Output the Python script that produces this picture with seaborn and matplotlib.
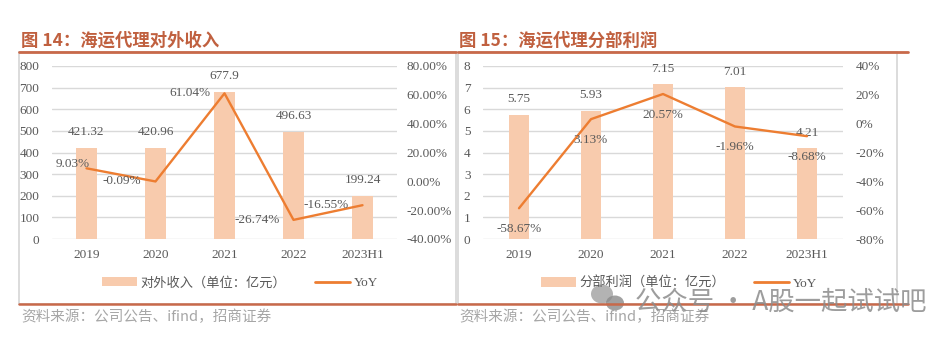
import numpy as np
import pandas as pd
import matplotlib
matplotlib.use("Agg")
import matplotlib.pyplot as plt
from matplotlib.patches import Rectangle, Patch, Ellipse
from matplotlib.lines import Line2D
from matplotlib.ticker import FuncFormatter, MultipleLocator
import seaborn as sns

# ---------------- data ----------------
categories = ["2019", "2020", "2021", "2022", "2023H1"]
revenue = [421.32, 420.96, 677.9, 496.63, 199.24]
revenue_labels = ["421.32", "420.96", "677.9", "496.63", "199.24"]
revenue_yoy = [9.03, -0.09, 61.04, -26.74, -16.55]
profit = [5.75, 5.93, 7.15, 7.01, 4.21]
profit_labels = ["5.75", "5.93", "7.15", "7.01", "4.21"]
profit_yoy = [-58.67, 3.13, 20.57, -1.96, -8.68]

title_left = "图 14：海运代理对外收入"
title_right = "图 15：海运代理分部利润"
legend_left = "对外收入（单位：亿元）"
legend_right = "分部利润（单位：亿元）"
legend_yoy = "YoY"
source_text = "资料来源：公司公告、ifind，招商证券"
watermark = "公众号 · A股一起试试吧"

# ---------------- style ----------------
sns.set_theme(style="white")
plt.rcParams["font.family"] = ["Liberation Serif", "Noto Sans CJK SC", "DejaVu Sans"]
BAR = "#F8CBAD"
LINE = "#ED7D31"
TITLE = "#C0603F"
RULE = "#C8694A"
TXT = "#595959"
GRID = "#D9D9D9"
FS = 9.5

W, H = 937, 340
fig = plt.figure(figsize=(W / 100, H / 100), dpi=100)


def fx(x):
    return x / W


def fy(y):
    return 1 - y / H


def make_axes(x0, x1, y0, y1):
    return fig.add_axes([fx(x0), fy(y1), fx(x1) - fx(x0), fy(y0) - fy(y1)])


def panel(ax, vals, vlabels, yoy, ylim, ystep, y2lim, y2step, pctfmt,
          bar_off, yoy_offsets, pad_l, pad_r):
    df = pd.DataFrame({"cat": categories, "val": vals})
    sns.barplot(data=df, x="cat", y="val", ax=ax, color=BAR, width=0.29,
                saturation=1, edgecolor="none", zorder=2)
    ax.set_xlim(-0.5, len(categories) - 0.5)
    ax.set_ylim(*ylim)
    ax.yaxis.set_major_locator(MultipleLocator(ystep))
    ax.set_xlabel("")
    ax.set_ylabel("")
    ax.grid(axis="y", color=GRID, lw=1, zorder=0)
    ax.set_axisbelow(True)
    for s in ax.spines.values():
        s.set_visible(False)
    ax.tick_params(axis="y", length=0, pad=pad_l, labelsize=FS, labelcolor=TXT)
    ax.tick_params(axis="x", length=0, pad=7, labelsize=FS, labelcolor=TXT)
    for i, (v, t) in enumerate(zip(vals, vlabels)):
        ax.annotate(t, (i, v), xytext=(0, bar_off), textcoords="offset points",
                    ha="center", va="center", fontsize=FS, color=TXT)

    ax2 = ax.twinx()
    xs = np.arange(len(categories))
    sns.lineplot(x=xs, y=yoy, ax=ax2, color=LINE, lw=1.7, zorder=3)
    ax2.set_xlim(-0.5, len(categories) - 0.5)
    ax2.set_ylim(*y2lim)
    ax2.yaxis.set_major_locator(MultipleLocator(y2step))
    ax2.yaxis.set_major_formatter(FuncFormatter(pctfmt))
    for s in ax2.spines.values():
        s.set_visible(False)
    ax2.tick_params(axis="y", length=0, pad=pad_r, labelsize=FS, labelcolor=TXT)
    ax2.set_ylabel("")
    for i, v in enumerate(yoy):
        (dx, dy, ha) = yoy_offsets[i]
        ax2.annotate(f"{v:.2f}%", (i, v), xytext=(dx, dy), textcoords="offset points",
                     ha=ha, va="center", fontsize=FS, color=TXT)
    return ax2


# left chart
axL = make_axes(52, 397, 66, 239)
offL = [(2, 3, "right")] + [(-10, 0, "right")] * 4
panel(axL, revenue, revenue_labels, revenue_yoy, (0, 800), 100, (-40, 80), 20,
      lambda v, p: f"{v:.2f}%", 11.5, offL, 9, 7)

# right chart
axR = make_axes(483, 843, 66, 239)
offR = [(0, -15, "center")] * 5
panel(axR, profit, profit_labels, profit_yoy, (0, 8), 1, (-80, 40), 20,
      lambda v, p: f"{v:.0f}%", 11, offR, 9, 9)

# panel frames and rules
for (x0, x1, xr) in [(19, 456, 456), (458, 897, 908)]:
    fig.add_artist(Rectangle((fx(x0), fy(304)), fx(x1) - fx(x0), fy(52) - fy(304),
                             transform=fig.transFigure, fill=False,
                             edgecolor="#D6D6D6", lw=1.2))
    fig.add_artist(Line2D([fx(x0), fx(xr)], [fy(52), fy(52)],
                          transform=fig.transFigure, color=RULE, lw=2))
    fig.add_artist(Line2D([fx(x0), fx(xr)], [fy(304), fy(304)],
                          transform=fig.transFigure, color=RULE, lw=1.8))

# titles
fig.text(fx(21), fy(41), title_left, fontsize=12.5, fontweight="bold", color=TITLE,
         ha="left", va="center", family=["Noto Sans CJK SC"])
fig.text(fx(459), fy(41), title_right, fontsize=12.5, fontweight="bold", color=TITLE,
         ha="left", va="center", family=["Noto Sans CJK SC"])

# legends
for (lab, cx) in [(legend_left, fx(240)), (legend_right, fx(679))]:
    handles = [Patch(facecolor=BAR, edgecolor="none"),
               Line2D([0], [0], color=LINE, lw=2)]
    leg = fig.legend(handles, [lab, legend_yoy], loc="center", bbox_to_anchor=(cx, fy(283)),
                     ncol=2, frameon=False, handlelength=2.6, handleheight=0.7,
                     handletextpad=0.3, columnspacing=2.2,
                     prop={"family": ["Liberation Serif", "Noto Sans CJK SC"], "size": 9.5})
    for t in leg.get_texts():
        t.set_color(TXT)

# source notes
for x in (21, 459):
    fig.text(fx(x), fy(317), source_text, fontsize=10.5, color="#A6A6A6",
             ha="left", va="center", family=["Noto Sans CJK SC"])

# watermark
fig.add_artist(Ellipse((fx(602), fy(294)), 22 / W, 19 / H, transform=fig.transFigure,
                       color="#9A9A9A", alpha=0.75, lw=0))
fig.add_artist(Ellipse((fx(615), fy(303)), 18 / W, 15 / H, transform=fig.transFigure,
                       color="#8A8A8A", alpha=0.8, lw=0))
fig.text(fx(635), fy(302), watermark, fontsize=19, color="#8C8C8C", alpha=0.85,
         ha="left", va="center", family=["Noto Sans CJK SC"])

fig.savefig("out.png", dpi=100)
